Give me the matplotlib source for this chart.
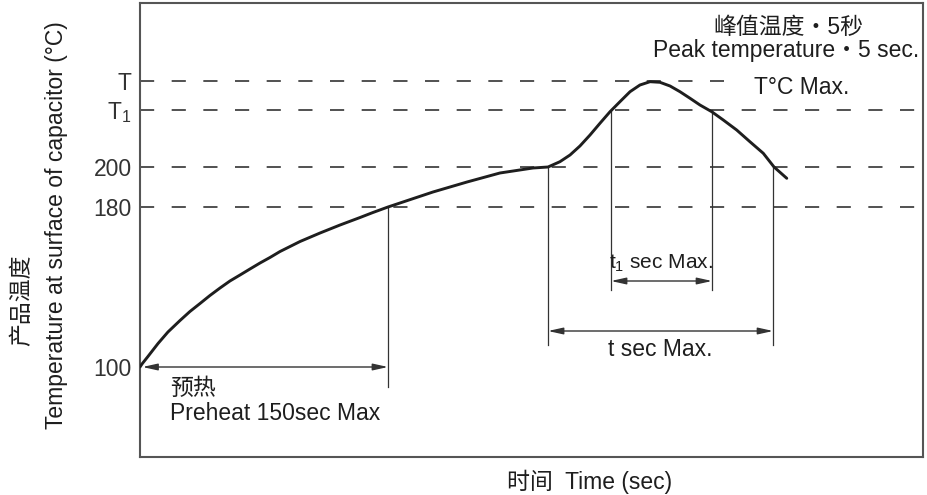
import numpy as np
import matplotlib
matplotlib.use("Agg")
import matplotlib.pyplot as plt

plt.rcParams['font.family'] = ['Liberation Sans', 'Noto Sans CJK SC', 'DejaVu Sans']
plt.rcParams['mathtext.fontset'] = 'custom'
plt.rcParams['mathtext.rm'] = 'Liberation Sans'
plt.rcParams['mathtext.it'] = 'Liberation Sans'

# reflow profile (time in sec, temperature in degC)
time_s = [0, 1.2, 4.8, 10.9, 16.9, 24.2, 30.2, 36.3, 42.3, 48.4, 54.4,
          60.5, 66.5, 72.6, 78.6, 84.7, 96.8, 108.9, 121.0, 133.1, 140.9,
          150, 177.2, 197.8, 217.7, 237.7, 246.8, 254.0, 260.1, 266.1,
          272.2, 278.2, 284.3, 290.3, 296.4, 302.4, 308.5, 314.5, 320.6,
          326.6, 332.7, 338.7, 345.8, 352.8, 360.9, 368.9, 377.0, 383.5,
          391.2]
temp_c = [100, 101.5, 105.25, 111.75, 117.5, 123.25, 127.75, 131.75, 135.75,
          139.5, 143, 146, 149, 152, 154.75, 157.75, 162.75, 167, 171, 174.75,
          177.25, 180, 187.5, 192.5, 197, 199.5, 200, 202.65, 206, 210.5,
          216, 221.85, 227.65, 232.65, 237.65, 241, 242.65, 242.35, 240.5,
          237.65, 234.35, 231, 227.65, 223.5, 218.5, 212.65, 206.85, 200,
          194.35]

T_peak = 243
T_1 = 228.5
levels = [180, 200, T_1]
ytick_vals = [100, 180, 200, T_1, T_peak]
ytick_labels = ['100', '180', '200', 'T$_{\\mathrm{1}}$', 'T']

preheat_end = 150
t_start, t_end = 246.8, 382.9
t1_start, t1_end = 284.9, 346
peak_line_end = 353.2

ink = '#1e1e1e'
fs = 16.5

fig = plt.figure(figsize=(9.28, 4.95), dpi=100)
ax = fig.add_axes([140 / 928, 38 / 495, 783 / 928, 454 / 495])
ax.set_xlim(0, 473.6)
ax.set_ylim(55, 282)

for s in ax.spines.values():
    s.set_color('#555555')
    s.set_linewidth(1.5)

# dashed reference levels
dash = dict(color='#333333', lw=1.2, dashes=(8.5, 10.5), zorder=1)
for lv in levels:
    ax.axhline(lv, **dash)
ax.plot([0, peak_line_end], [T_peak, T_peak], **dash)

# profile curve
ax.plot(time_s, temp_c, color=ink, lw=2.1, solid_capstyle='round',
        solid_joinstyle='round', zorder=3)

# vertical markers
vl = dict(color='#333333', lw=0.9, zorder=2)
ax.plot([preheat_end, preheat_end], [180, 90], **vl)
ax.plot([t_start, t_start], [200, 111], **vl)
ax.plot([t_end, t_end], [200, 111], **vl)
ax.plot([t1_start, t1_start], [T_1, 138.5], **vl)
ax.plot([t1_end, t1_end], [T_1, 138.5], **vl)

# dimension arrows
arr = dict(arrowstyle='<|-|>,head_length=0.9,head_width=0.2', color='#333333',
           lw=1.0, shrinkA=0, shrinkB=0)
ax.annotate('', xy=(preheat_end, 100), xytext=(1.5, 100), arrowprops=arr)
ax.annotate('', xy=(t_end, 118), xytext=(t_start, 118), arrowprops=arr)
ax.annotate('', xy=(t1_end, 143), xytext=(t1_start, 143), arrowprops=arr)

# annotations
ax.text(392.2, 269.5, '峰值温度・5秒', ha='center', va='center', fontsize=fs, color=ink)
ax.text(390.7, 258.5, 'Peak temperature・5 sec.', ha='center', va='center', fontsize=fs, color=ink)
ax.text(400.4, 239.5, 'T°C Max.', ha='center', va='center', fontsize=fs, color=ink)
ax.text(315.4, 152, '$\\mathrm{t_1}$ sec Max.', ha='center', va='center', fontsize=15, color=ink)
ax.text(314.5, 108.5, 't sec Max.', ha='center', va='center', fontsize=fs, color=ink)
ax.text(18.1, 89.5, '预热', ha='left', va='center', fontsize=fs, color=ink)
ax.text(18.1, 77, 'Preheat 150sec Max', ha='left', va='center', fontsize=fs, color=ink)

ax.set_xticks([])
ax.set_yticks(ytick_vals)
ax.set_yticklabels(ytick_labels, fontsize=fs, color='#333333')
ax.tick_params(axis='y', length=0, pad=6)

fig.text(590 / 928, 1 - 482 / 495, '时间  Time (sec)', ha='center', va='center',
         fontsize=fs, color=ink)
fig.text(57 / 928, 1 - 225 / 495, 'Temperature at surface of capacitor (°C)',
         rotation=90, ha='center', va='center', fontsize=fs, color=ink)
fig.text(22 / 928, 1 - 300 / 495, '产品温度', rotation=90, ha='center', va='center',
         fontsize=fs, color=ink)

fig.savefig('out.png', dpi=100)
